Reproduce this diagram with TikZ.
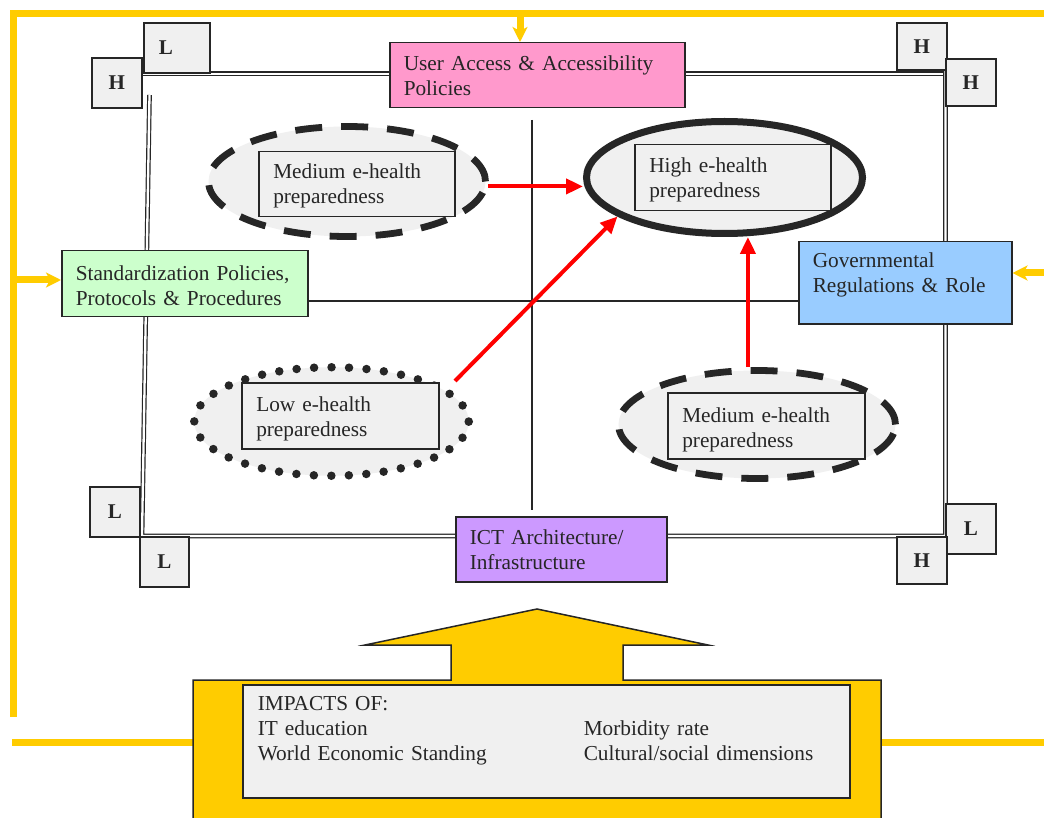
\documentclass[tikz,border=0pt]{standalone}
\usepackage{fontspec}
\setmainfont{Liberation Serif}
\usetikzlibrary{arrows.meta,shapes.geometric,calc}

\definecolor{gold}{HTML}{FFCC00}
\definecolor{ink}{HTML}{262626}
\definecolor{paper}{HTML}{F0F0F0}
\definecolor{pinkfill}{HTML}{FF99CC}
\definecolor{greenfill}{HTML}{CCFFCC}
\definecolor{bluefill}{HTML}{99CCFF}
\definecolor{violetfill}{HTML}{CC99FF}

\tikzset{
  bodytext/.style={font=\fontsize{21.3}{25}\selectfont, text=ink},
  panel/.style={draw=ink, line width=1.5pt, inner xsep=14pt, inner ysep=0pt,
    align=left, anchor=north west, bodytext},
  levelbox/.style={panel, fill=paper, inner xsep=14.5pt},
  cornerbox/.style={draw=ink, fill=paper, line width=1.6pt, inner sep=0pt,
    anchor=north west, minimum width=50pt, text=ink,
    font=\bfseries\fontsize{21}{21}\selectfont},
  stage/.style={ellipse, fill=paper, inner sep=0pt},
  dashring/.style={stage, draw=ink, line width=6.8pt, dash pattern=on 27pt off 19pt},
  dotring/.style={stage, draw=ink, line width=8.5pt, line cap=round,
    dash pattern=on 0pt off 17.5pt},
  solidring/.style={stage, draw=ink, line width=7pt},
  frameline/.style={draw=ink, line width=1.2pt, double=white, double distance=2.3pt},
  crossline/.style={draw=ink, line width=1.5pt},
  push/.style={draw=red, line width=4pt, -{Triangle[length=17pt,width=15pt]}},
  feed/.style={draw=gold, line width=7pt, -{Stealth[length=15pt,width=15pt,inset=4pt]}},
  goldline/.style={draw=gold, line width=7pt},
}

\begin{document}
\begin{tikzpicture}[x=1pt,y=-1pt]
\useasboundingbox (0,0) rectangle (1044,818);
\fill[white] (0,0) rectangle (1044,818);

% yellow feedback frame
\coordinate (goldTR) at (1050,13.5);
\coordinate (goldTL) at (13.5,13.5);
\coordinate (goldBL) at (13.5,717);
\draw[goldline] (goldTR) -- (goldTL) -- (goldBL);
\coordinate (baseFarL) at (12,742);
\coordinate (baseL) at (193,742);
\coordinate (baseR) at (881,742);
\coordinate (baseFarR) at (1050,742);
\draw[goldline] (baseFarL) -- (baseL);
\draw[goldline] (baseR) -- (baseFarR);

% double-lined quadrant frame
\coordinate (fTL) at (143,73.7);
\coordinate (fTR) at (945.5,73.7);
\coordinate (fRtop) at (945.5,60);
\coordinate (fBR) at (945.5,536);
\coordinate (fBL) at (142,536);
\coordinate (fLtop) at (149.5,95);
\draw[frameline] (fTL) -- (fTR);
\draw[frameline] (fRtop) -- (fBR) -- (fBL) -- (fLtop);

% quadrant divider
\coordinate (vtop) at (532,120);
\coordinate (vbot) at (532,510);
\coordinate (hmid) at (532,301);
\draw[crossline] (vtop) -- (vbot);

% corner level markers
\node[cornerbox, minimum width=66pt, minimum height=50pt, align=left,
      text width=36pt, inner xsep=15pt] (cTL) at (143,22) {L};
\node[cornerbox, minimum height=50pt] (cTLb) at (91,57) {H};
\node[cornerbox, minimum height=47pt] (cTR) at (896,22) {H};
\node[cornerbox, minimum height=47pt] (cTRb) at (945,58) {H};
\node[cornerbox, minimum height=50pt] (cBL) at (89,486) {L};
\node[cornerbox, minimum width=49pt, minimum height=50pt] (cBLb) at (139,536) {L};
\node[cornerbox, minimum height=50pt] (cBR) at (945,503) {L};
\node[cornerbox, minimum height=47pt] (cBRb) at (896,536) {H};

% policy axes
\node[panel, fill=pinkfill, text width=267pt, text height=28pt, text depth=37pt]
  (access) at (389,42) {User Access \& Accessibility\\Policies};
\node[panel, fill=greenfill, text width=218pt, text height=30pt, text depth=36pt]
  (standard) at (61,250) {Standardization Policies,\\Protocols \& Procedures};
\node[panel, fill=bluefill, text width=185pt, text height=26pt, text depth=56pt]
  (gov) at (798,241) {Governmental\\Regulations \& Role};
\node[panel, fill=violetfill, text width=183pt, text height=28pt, text depth=37pt]
  (ict) at (455,516) {ICT Architecture/\\Infrastructure};

\draw[crossline] (hmid -| standard.east) -- (hmid -| gov.west);

% preparedness stages
\node[dashring, minimum width=277pt, minimum height=110pt] (medTLring) at (347,181.5) {};
\node[solidring, minimum width=276pt, minimum height=112pt] (highring) at (724.5,177.5) {};
\node[dotring, minimum width=274.5pt, minimum height=108.5pt] (lowring) at (331.5,421.5) {};
\node[dashring, minimum width=277pt, minimum height=108pt] (medBRring) at (757,424.5) {};

\node[levelbox, text width=167pt, text height=27pt, text depth=38pt]
  (medTL) at (258,151) {Medium e-health\\preparedness};
\node[levelbox, text width=167pt, text height=28pt, text depth=38pt]
  (high) at (634,144) {High e-health\\preparedness};
\node[levelbox, text width=168pt, text height=29pt, text depth=37pt]
  (low) at (241,382) {Low e-health\\preparedness};
\node[levelbox, text width=168pt, text height=30pt, text depth=36pt]
  (medBR) at (667,392) {Medium e-health\\preparedness};

% progress arrows
\coordinate (lowtail) at ($(lowring.center)+(123.5,-40.5)$);
\draw[push] (medTLring.-2) -- (medTLring.-2 -| highring.west);
\draw[push] (lowtail) -- (highring.200.5);
\draw[push] (medBRring.99) -- (medBRring.99 |- highring.south);

% external pressures
\coordinate (topjoin) at (520,13.5);
\coordinate (leftjoin) at (13.5,280);
\coordinate (rightjoin) at (1050,273);
\draw[feed] (topjoin) -- (topjoin |- access.north);
\draw[feed] (leftjoin) -- (leftjoin -| standard.west);
\draw[feed] (rightjoin) -- (rightjoin -| gov.east);

% impacts base with upward arrow
\draw[draw=ink, line width=1.5pt, fill=gold]
  (193,830) -- (193,680) -- (451,680) -- (451,645) -- (365,645) -- (537,609)
  -- (708,645) -- (623,645) -- (623,680) -- (881,680) -- (881,830) -- cycle;
\node[panel, fill=paper, inner xsep=15pt, text width=577pt, text height=26pt, text depth=87pt]
  (impacts) at (242,684)
  {IMPACTS OF:\\
   \makebox[326pt][l]{IT education}Morbidity rate\\
   \makebox[326pt][l]{World Economic Standing}Cultural/social dimensions};
\end{tikzpicture}
\end{document}
